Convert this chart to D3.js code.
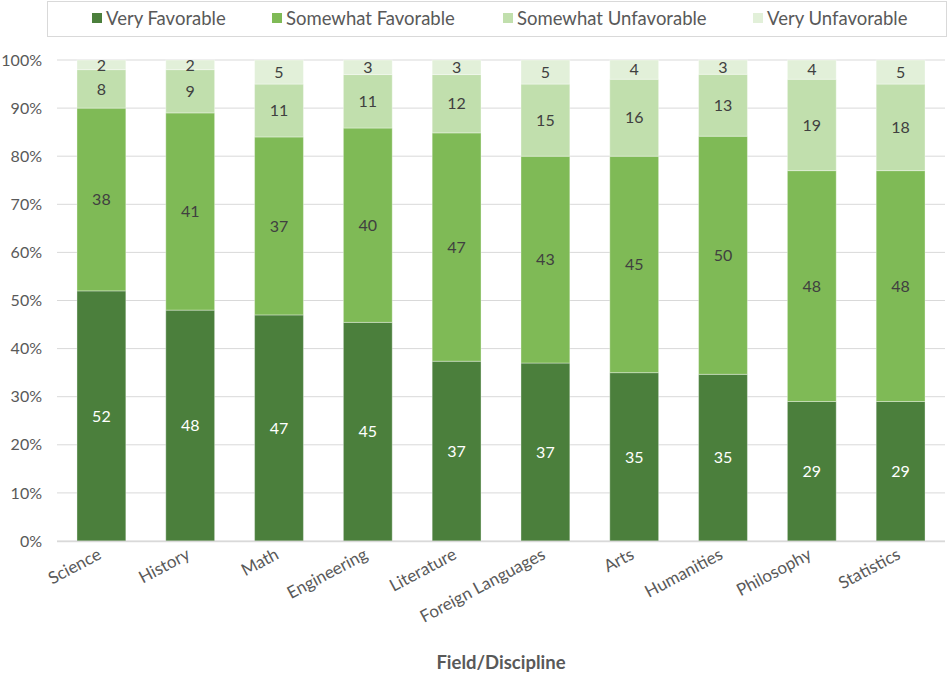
<!DOCTYPE html>
<html>
<head>
<meta charset="utf-8">
<script src="https://cdn.jsdelivr.net/npm/d3@7"></script>
<style>
  body { margin: 0; background: #fff; }
  svg { display: block; font-family: Lato, "Noto Sans", sans-serif; }
</style>
</head>
<body>
<div id="chart"></div>
<script>
const fields = ["Science", "History", "Math", "Engineering", "Literature",
  "Foreign Languages", "Arts", "Humanities", "Philosophy", "Statistics"];
const seriesNames = ["Very Favorable", "Somewhat Favorable", "Somewhat Unfavorable", "Very Unfavorable"];
const veryFav = [52, 48, 47, 45, 37, 37, 35, 35, 29, 29];
const somewhatFav = [38, 41, 37, 40, 47, 43, 45, 50, 48, 48];
const somewhatUnfav = [8, 9, 11, 11, 12, 15, 16, 13, 19, 18];
const veryUnfav = [2, 2, 5, 3, 3, 5, 4, 3, 4, 5];
const yTicks = [0, 0.1, 0.2, 0.3, 0.4, 0.5, 0.6, 0.7, 0.8, 0.9, 1.0];

const colors = ["#4b7f3c", "#7fba56", "#c1dfad", "#e2f0d9"];
const labelColors = ["#ffffff", "#404040", "#404040", "#404040"];

const W = 950, H = 677;
const M = { top: 60, right: 5, bottom: 136, left: 57 };

const rows = fields.map((f, i) => {
  const vals = [veryFav[i], somewhatFav[i], somewhatUnfav[i], veryUnfav[i]];
  const total = d3.sum(vals);
  const r = { field: f };
  seriesNames.forEach((s, j) => { r[s] = vals[j] / total; r[s + "_raw"] = vals[j]; });
  return r;
});

const svg = d3.select("#chart").append("svg").attr("width", W).attr("height", H);

const x = d3.scaleBand().domain(fields).range([M.left, W - M.right]).paddingInner(0.45).paddingOuter(0.225);
const y = d3.scaleLinear().domain([0, 1]).range([H - M.bottom, M.top]);

// gridlines
svg.append("g").selectAll("line").data(yTicks).join("line")
  .attr("x1", M.left).attr("x2", W - M.right)
  .attr("y1", d => y(d)).attr("y2", d => y(d))
  .attr("stroke", "#d9d9d9").attr("stroke-width", 1);

// y axis labels
const yAxis = d3.axisLeft(y).tickValues(yTicks).tickFormat(d3.format(".0%")).tickSize(0).tickPadding(15);
const ya = svg.append("g").attr("transform", `translate(${M.left},0)`).call(yAxis);
ya.select(".domain").remove();
ya.selectAll("text").attr("fill", "#595959").style("font-size", "16px").style("font-family", "Lato, sans-serif");

const stack = d3.stack().keys(seriesNames);
const layers = stack(rows);

const lg = svg.append("g").selectAll("g").data(layers).join("g")
  .attr("fill", (d, i) => colors[i]);

lg.selectAll("rect").data(d => d).join("rect")
  .attr("x", d => x(d.data.field))
  .attr("width", x.bandwidth())
  .attr("y", d => y(d[1]))
  .attr("height", d => y(d[0]) - y(d[1]))
  .attr("stroke", "#ffffff").attr("stroke-opacity", 0.35).attr("stroke-width", 1);

layers.forEach((layer, i) => {
  svg.append("g").selectAll("text").data(layer).join("text")
    .attr("x", d => x(d.data.field) + x.bandwidth() / 2)
    .attr("y", d => (y(d[0]) + y(d[1])) / 2)
    .attr("dy", "0.36em")
    .attr("text-anchor", "middle")
    .attr("fill", labelColors[i])
    .style("font-size", "16px")
    .text(d => d.data[layer.key + "_raw"]);
});

// x axis
svg.append("line").attr("x1", M.left).attr("x2", W - M.right)
  .attr("y1", y(0) + 0.5).attr("y2", y(0) + 0.5).attr("stroke", "#d9d9d9").attr("stroke-width", 1.5);

const xa = svg.append("g").attr("transform", `translate(0,${y(0)})`)
  .call(d3.axisBottom(x).tickSize(0).tickPadding(0));
xa.select(".domain").remove();
xa.selectAll("text")
  .attr("fill", "#595959").style("font-size", "17px").style("font-family", "Lato, sans-serif")
  .attr("text-anchor", "end")
  .attr("dy", null)
  .attr("transform", "translate(1,17) rotate(-28)");

svg.append("text").attr("x", (M.left + W - M.right) / 2).attr("y", 669)
  .attr("text-anchor", "middle").attr("fill", "#595959")
  .style("font-size", "18.5px").style("font-weight", "bold")
  .text("Field/Discipline");

// legend
svg.append("rect").attr("x", 47.5).attr("y", 1.5).attr("width", 899).attr("height", 35)
  .attr("fill", "#fff").attr("stroke", "#d9d9d9");
const legX = [92, 272, 503, 753];
const leg = svg.append("g").selectAll("g").data(seriesNames).join("g")
  .attr("transform", (d, i) => `translate(${legX[i]},18)`);
leg.append("rect").attr("x", 0).attr("y", -5).attr("width", 10).attr("height", 10)
  .attr("fill", (d, i) => colors[i]);
leg.append("text").attr("x", 14).attr("dy", "0.36em").attr("fill", "#595959")
  .style("font-size", "18.5px").text(d => d);
</script>
</body>
</html>
